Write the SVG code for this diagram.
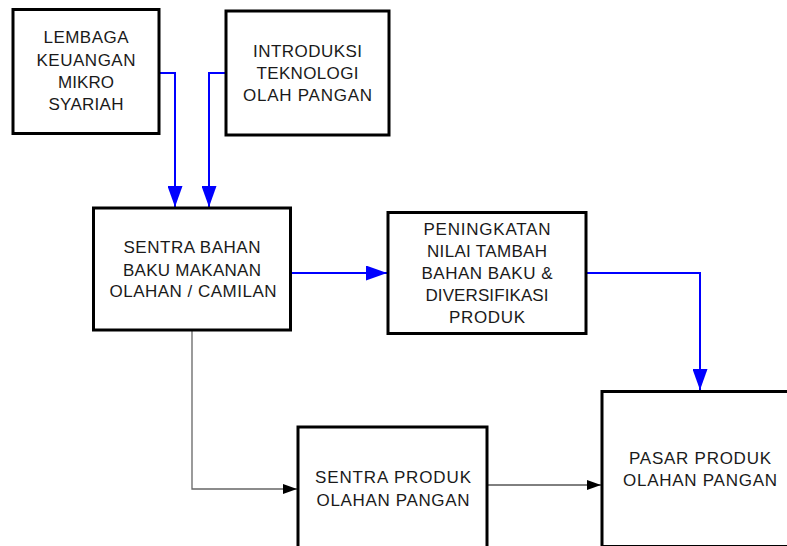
<svg xmlns="http://www.w3.org/2000/svg" width="787" height="546" viewBox="0 0 787 546">
<style>
.box{fill:#fff;stroke:#000;stroke-width:3}
.t{font-family:"Liberation Sans",Arial,sans-serif;font-size:17px;fill:#1a1a1a;text-anchor:middle}
.blue{fill:none;stroke:#0000ff;stroke-width:2}
.gray{fill:none;stroke:#666;stroke-width:1.3}
.blk{fill:none;stroke:#000;stroke-width:1}
</style>
<defs>
<marker id="ab" markerUnits="userSpaceOnUse" markerWidth="21" markerHeight="15" refX="21" refY="7.5" orient="auto"><path d="M0,0 L21,7.5 L0,15 z" fill="#0000ff"/></marker>
<marker id="ak" markerUnits="userSpaceOnUse" markerWidth="14" markerHeight="10" refX="14" refY="5" orient="auto"><path d="M0,0 L14,5 L0,10 z" fill="#000"/></marker>
</defs>
<rect width="787" height="546" fill="#fff"/>
<g id="connectors">
<path class="blue" d="M159,73 H175 V207" marker-end="url(#ab)"/>
<path class="blue" d="M226,73 H209 V207" marker-end="url(#ab)"/>
<path class="blue" d="M291,273 H387" marker-end="url(#ab)"/>
<path class="blue" d="M586,273 H700 V390" marker-end="url(#ab)"/>
<path class="gray" d="M192,331 V489 H297" marker-end="url(#ak)"/>
<path class="blk" d="M487,485 H601" marker-end="url(#ak)"/>
</g>
<g id="lembaga">
<rect class="box" x="13" y="9.5" width="146" height="124"/>
<text class="t" x="86" y="43" textLength="85" lengthAdjust="spacing">LEMBAGA</text>
<text class="t" x="86" y="66" textLength="99" lengthAdjust="spacing">KEUANGAN</text>
<text class="t" x="86" y="88" textLength="56" lengthAdjust="spacing">MIKRO</text>
<text class="t" x="86" y="110" textLength="75" lengthAdjust="spacing">SYARIAH</text>
</g>
<g id="introduksi">
<rect class="box" x="226" y="11" width="163" height="124"/>
<text class="t" x="307.5" y="57" textLength="109" lengthAdjust="spacing">INTRODUKSI</text>
<text class="t" x="307.5" y="79" textLength="102" lengthAdjust="spacing">TEKNOLOGI</text>
<text class="t" x="307.5" y="101" textLength="129" lengthAdjust="spacing">OLAH PANGAN</text>
</g>
<g id="sentra-bahan">
<rect class="box" x="93.5" y="208" width="197" height="122"/>
<text class="t" x="192" y="253" textLength="137" lengthAdjust="spacing">SENTRA BAHAN</text>
<text class="t" x="192" y="276" textLength="138" lengthAdjust="spacing">BAKU MAKANAN</text>
<text class="t" x="193" y="297" textLength="167" lengthAdjust="spacing">OLAHAN / CAMILAN</text>
</g>
<g id="peningkatan">
<rect class="box" x="388" y="212.5" width="198" height="121"/>
<text class="t" x="487" y="235" textLength="127" lengthAdjust="spacing">PENINGKATAN</text>
<text class="t" x="487" y="257" textLength="120" lengthAdjust="spacing">NILAI TAMBAH</text>
<text class="t" x="487" y="279" textLength="131" lengthAdjust="spacing">BAHAN BAKU &amp;</text>
<text class="t" x="487" y="301" textLength="123" lengthAdjust="spacing">DIVERSIFIKASI</text>
<text class="t" x="487" y="323" textLength="76" lengthAdjust="spacing">PRODUK</text>
</g>
<g id="sentra-produk">
<rect class="box" x="298" y="427" width="189" height="130"/>
<text class="t" x="393" y="483" textLength="156" lengthAdjust="spacing">SENTRA PRODUK</text>
<text class="t" x="393" y="506" textLength="153" lengthAdjust="spacing">OLAHAN PANGAN</text>
</g>
<g id="pasar">
<rect class="box" x="602" y="391.5" width="200" height="155"/>
<text class="t" x="700" y="464" textLength="142" lengthAdjust="spacing">PASAR PRODUK</text>
<text class="t" x="700" y="486" textLength="154" lengthAdjust="spacing">OLAHAN PANGAN</text>
</g>
</svg>
